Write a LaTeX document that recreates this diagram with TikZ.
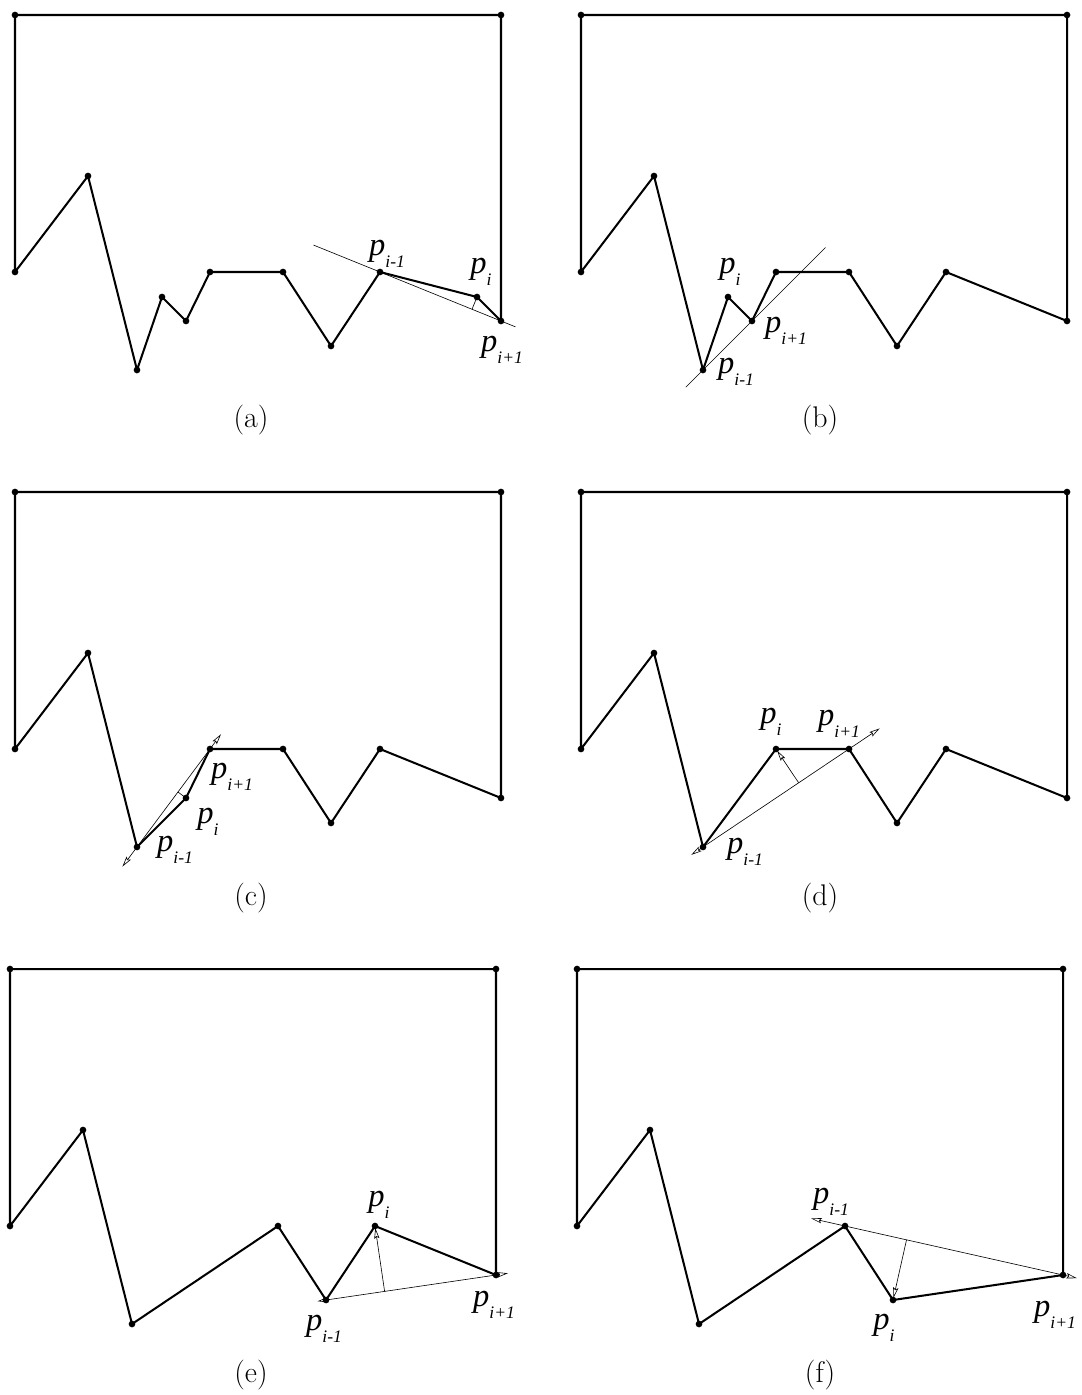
\documentclass[tikz,border=0pt]{standalone}
\usepackage{fontspec}
\usepackage{tikz}
\usetikzlibrary{arrows.meta, calc}
\newfontfamily\labelfont{Liberation Serif}

\newcommand{\plabel}[1]{{\labelfont\itshape\fontsize{18.5}{18.5}\selectfont p\raisebox{-6.5pt}{\fontsize{10}{10}\selectfont #1}}}

\tikzset{
    contour/.style={line width=1.15pt, line join=miter},
    guide/.style={line width=0.35pt},
    guidearrows/.style={line width=0.35pt, {Stealth[open,length=6pt,width=3pt,inset=1pt]}-{Stealth[open,length=6pt,width=3pt,inset=1pt]}},
    normalarrow/.style={line width=0.35pt, -{Stealth[open,length=6pt,width=3pt,inset=1pt]}, shorten >=1.2pt},
    plbl/.style={inner sep=0pt},
    caption/.style={inner sep=0pt, font=\fontsize{17}{17}\selectfont}
}

\begin{document}
\begin{tikzpicture}[x=0.02cm, y=-0.02cm]
    \useasboundingbox (0,0) rectangle (1081,1395);

    % (a)
    \begin{scope}
        \foreach \x/\y [count=\k] in {15/15, 501/15, 501/321, 477/297, 380/272, 331/346, 283/272, 210/272, 186/321, 162/297, 137/370, 88/176, 15/272}
            \coordinate (a\k) at (\x,\y);
        \draw[contour] (a1) \foreach \k in {2,...,13} {-- (a\k)} -- cycle;
        \foreach \k in {1,...,13} \fill (a\k) circle[radius=1.9pt];
        \draw[guide] ($(a5)!-0.55!(a3)$) -- ($(a5)!1.12!(a3)$);
        \draw[guide] (a4) -- ($(a5)!(a4)!(a3)$);
        \node[plbl] (la-im) at (387,254) {\plabel{i-1}};
        \node[plbl] (la-i) at (481,272) {\plabel{i}};
        \node[plbl] (la-ip) at (502,350) {\plabel{i+1}};
    \end{scope}

    % (b)
    \begin{scope}[shift={(566,0)}]
        \foreach \x/\y [count=\k] in {15/15, 501/15, 501/321, 380/272, 331/346, 283/272, 210/272, 186/321, 162/297, 137/370, 88/176, 15/272}
            \coordinate (b\k) at (\x,\y);
        \draw[contour] (b1) \foreach \k in {2,...,12} {-- (b\k)} -- cycle;
        \foreach \k in {1,...,12} \fill (b\k) circle[radius=1.9pt];
        \draw[guide] ($(b10)!-0.35!(b8)$) -- ($(b10)!2.5!(b8)$);
        \node[plbl] (lb-i) at (164,272) {\plabel{i}};
        \node[plbl] (lb-ip) at (220,331) {\plabel{i+1}};
        \node[plbl] (lb-im) at (170,372) {\plabel{i-1}};
    \end{scope}

    % (c)
    \begin{scope}[shift={(0,477)}]
        \foreach \x/\y [count=\k] in {15/15, 501/15, 501/321, 380/272, 331/346, 283/272, 210/272, 186/321, 137/370, 88/176, 15/272}
            \coordinate (c\k) at (\x,\y);
        \draw[contour] (c1) \foreach \k in {2,...,11} {-- (c\k)} -- cycle;
        \foreach \k in {1,...,11} \fill (c\k) circle[radius=1.9pt];
        \draw[guidearrows] ($(c9)!-0.2!(c7)$) -- ($(c9)!1.15!(c7)$);
        \draw[guide] (c8) -- ($(c9)!(c8)!(c7)$);
        \node[plbl] (lc-ip) at (232,300) {\plabel{i+1}};
        \node[plbl] (lc-i) at (208,345) {\plabel{i}};
        \node[plbl] (lc-im) at (175,373) {\plabel{i-1}};
    \end{scope}

    % (d)
    \begin{scope}[shift={(566,477)}]
        \foreach \x/\y [count=\k] in {15/15, 501/15, 501/321, 380/272, 331/346, 283/272, 210/272, 137/370, 88/176, 15/272}
            \coordinate (d\k) at (\x,\y);
        \draw[contour] (d1) \foreach \k in {2,...,10} {-- (d\k)} -- cycle;
        \foreach \k in {1,...,10} \fill (d\k) circle[radius=1.9pt];
        \draw[guidearrows] ($(d8)!-0.08!(d6)$) -- ($(d8)!1.21!(d6)$);
        \draw[normalarrow] ($(d8)!(d7)!(d6)$) -- (d7);
        \node[plbl] (ld-i) at (205,245) {\plabel{i}};
        \node[plbl] (ld-ip) at (273,247) {\plabel{i+1}};
        \node[plbl] (ld-im) at (179,375) {\plabel{i-1}};
    \end{scope}

    % (e)
    \begin{scope}[shift={(-5,954)}]
        \foreach \x/\y [count=\k] in {15/15, 501/15, 501/321, 380/272, 331/346, 283/272, 137/370, 88/176, 15/272}
            \coordinate (e\k) at (\x,\y);
        \draw[contour] (e1) \foreach \k in {2,...,9} {-- (e\k)} -- cycle;
        \foreach \k in {1,...,9} \fill (e\k) circle[radius=1.9pt];
        \draw[guidearrows] ($(e5)!-0.05!(e3)$) -- ($(e5)!1.07!(e3)$);
        \draw[normalarrow] ($(e5)!(e4)!(e3)$) -- (e4);
        \node[plbl] (le-i) at (384,251) {\plabel{i}};
        \node[plbl] (le-ip) at (499,351) {\plabel{i+1}};
        \node[plbl] (le-im) at (329,375) {\plabel{i-1}};
    \end{scope}

    % (f)
    \begin{scope}[shift={(562,954)}]
        \foreach \x/\y [count=\k] in {15/15, 501/15, 501/321, 331/346, 283/272, 137/370, 88/176, 15/272}
            \coordinate (f\k) at (\x,\y);
        \draw[contour] (f1) \foreach \k in {2,...,8} {-- (f\k)} -- cycle;
        \foreach \k in {1,...,8} \fill (f\k) circle[radius=1.9pt];
        \draw[guidearrows] ($(f5)!-0.155!(f3)$) -- ($(f5)!1.064!(f3)$);
        \draw[normalarrow] ($(f5)!(f4)!(f3)$) -- (f4);
        \node[plbl] (lf-im) at (269,248) {\plabel{i-1}};
        \node[plbl] (lf-i) at (322,374) {\plabel{i}};
        \node[plbl] (lf-ip) at (493,361) {\plabel{i+1}};
    \end{scope}

    % Captions
    \node[caption] (cap-a) at (251,420) {(a)};
    \node[caption] (cap-b) at (820,420) {(b)};
    \node[caption] (cap-c) at (251,898) {(c)};
    \node[caption] (cap-d) at (820,898) {(d)};
    \node[caption] (cap-e) at (251,1375) {(e)};
    \node[caption] (cap-f) at (820,1375) {(f)};
\end{tikzpicture}
\end{document}
